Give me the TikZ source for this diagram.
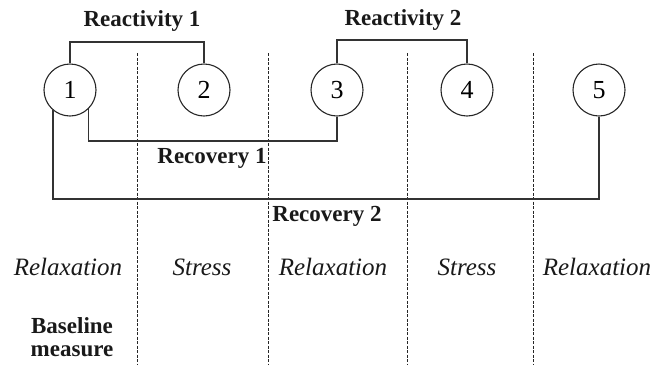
\documentclass[tikz,border=0pt]{standalone}
\usepackage{fontspec}
\setmainfont{Liberation Serif}
\usepackage{tikz}
\usetikzlibrary{positioning}

\begin{document}
\begin{tikzpicture}[
    x=1pt, y=-1pt,
    point/.style={circle, draw=black!85, line width=1.1pt, minimum size=52pt,
                  inner sep=0pt, font=\fontsize{26}{28}\selectfont},
    phase/.style={font=\fontsize{25}{27}\selectfont\itshape, text=black!90},
    label/.style={font=\fontsize{23}{25}\selectfont\bfseries, text=black!90, align=center},
    link/.style={draw=black!80, line width=1.2pt},
    divider/.style={draw=black!85, line width=0.9pt, dash pattern=on 3pt off 1.5pt}
]
    \useasboundingbox (0,0) rectangle (653,365);

    % Measurement points
    \node[point] (c1) at (70,  90) {1};
    \node[point] (c2) at (204, 90) {2};
    \node[point] (c3) at (337, 90) {3};
    \node[point] (c4) at (467, 90) {4};
    \node[point] (c5) at (599, 90) {5};

    % Phase dividers
    \foreach \x in {137, 268, 407, 533}
        \draw[divider] (\x,53) -- (\x,365);

    % Levels of the brackets
    \coordinate (re1) at (0, 42);
    \coordinate (re2) at (0, 40);
    \coordinate (rc1) at (0, 141);
    \coordinate (rc2) at (0, 199);

    % ── Reactivity brackets ──
    \draw[link] (c1.north) -- (c1.north |- re1) -- (c2.north |- re1) -- (c2.north);
    \draw[link] (c3.north) -- (c3.north |- re2) -- (c4.north |- re2) -- (c4.north);

    % ── Recovery brackets ──
    \draw[link] (c1.-45) -- (c1.-45 |- rc1) -- (c3.south |- rc1) -- (c3.south);
    \draw[link] (c1.230) -- (c1.230 |- rc2) -- (c5.south |- rc2) -- (c5.south);

    % Bracket labels
    \node[label] (lre1) at (142, 21)  {Reactivity 1};
    \node[label] (lre2) at (403, 20)  {Reactivity 2};
    \node[label] (lrc1) at (212, 158) {Recovery 1};
    \node[label] (lrc2) at (327, 216) {Recovery 2};

    % Phases
    \node[phase] (p1) at (68,  267) {Relaxation};
    \node[phase] (p2) at (202, 267) {Stress};
    \node[phase] (p3) at (333, 267) {Relaxation};
    \node[phase] (p4) at (467, 267) {Stress};
    \node[phase] (p5) at (597, 267) {Relaxation};

    \node[label] (base) at (72, 337) {Baseline\\[-2pt]measure};
\end{tikzpicture}
\end{document}
